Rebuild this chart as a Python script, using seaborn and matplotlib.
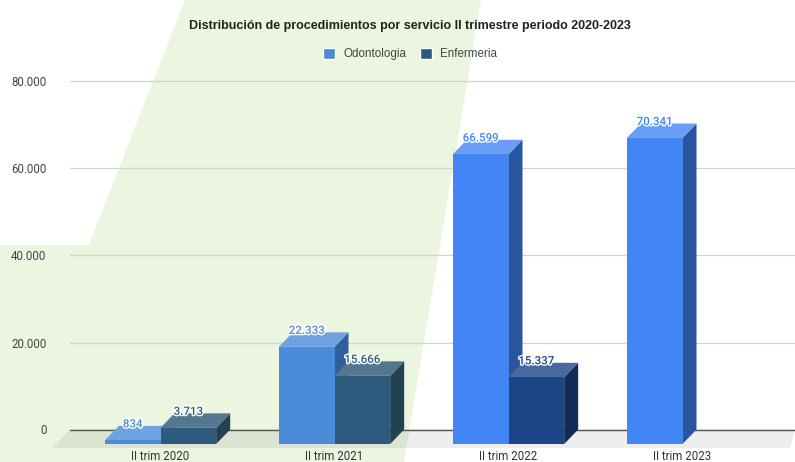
import matplotlib
matplotlib.use("Agg")
import matplotlib.patheffects as pe
import matplotlib.pyplot as plt
import pandas as pd
import seaborn as sns
from matplotlib.patches import Patch, Polygon

W, H = 795, 462

periods = ["II trim 2020", "II trim 2021", "II trim 2022", "II trim 2023"]
odontologia = [834, 22333, 66599, 70341]
enfermeria = [3713, 15666, 15337, None]
y_ticks = [0, 20000, 40000, 60000, 80000]
y_tick_labels = ["0", "20.000", "40.000", "60.000", "80.000"]

# front, top, side colours per bar
odo_colors = [
    ("#4a8cd8", "#6ea3e0", "#2f5f9c"),
    ("#4a8cd8", "#6ea3e0", "#2f5f9c"),
    ("#4285f4", "#6a9df5", "#2a55a0"),
    ("#4285f4", "#6a9df5", "#2a55a0"),
]
enf_colors = [
    ("#2d5a7f", "#54768f", "#244152"),
    ("#2d5a7f", "#54768f", "#244152"),
    ("#1c4587", "#486a9f", "#132c55"),
    ("#1c4587", "#486a9f", "#132c55"),
]
label_colors_odo = ["#4a8cd8", "#4a8cd8", "#4285f4", "#4285f4"]
label_colors_enf = ["#2d5a7f", "#2d5a7f", "#1c4587", "#1c4587"]

df = pd.DataFrame({"period": periods, "Odontologia": odontologia, "Enfermeria": enfermeria})
df = df.melt(id_vars="period", var_name="servicio", value_name="procedimientos")

sns.set_theme(style="white")
plt.rcParams["font.family"] = ["Roboto", "DejaVu Sans"]

fig = plt.figure(figsize=(W / 100, H / 100), dpi=100, facecolor="white")


def axes_px(left, right, top, bottom):
    return fig.add_axes([left / W, 1 - bottom / H, (right - left) / W, (bottom - top) / H])


def fig_poly(points, **kw):
    fig.add_artist(Polygon([(x / W, 1 - y / H) for x, y in points], transform=fig.transFigure, lw=0, **kw))


# green shape behind the chart and the floor
fig_poly([(185, 0), (481, 0), (404, 462), (0, 462), (0, 245), (89, 245)], facecolor="#ecf5e0", zorder=-2)
fig_poly([(70, 429.5), (795, 429.5), (790, 448), (52, 448)], facecolor="black", alpha=0.065, zorder=-1)

# back wall: gridlines and value axis
back = axes_px(70, 795, 81.5, 429.5)
back.patch.set_alpha(0)
back.set_ylim(0, 80000)
back.set_xticks([])
back.set_yticks(y_ticks, y_tick_labels, fontsize=8.3, color="#444444")
back.tick_params(axis="y", length=0, pad=17)
back.grid(axis="y", color="#d2d4ce", lw=0.9)
back.set_axisbelow(True)
for line in back.get_ygridlines():
    line.set_clip_on(False)
back.axhline(0, color="#555555", lw=1, clip_on=False)
sns.despine(ax=back, left=True, bottom=True, top=True, right=True)

# front plane: the bars
ax = axes_px(73.5, 769.5, 96, 444)
ax.patch.set_alpha(0)
sns.barplot(data=df, x="period", y="procedimientos", hue="servicio", width=0.64, gap=0,
            hue_order=["Odontologia", "Enfermeria"], legend=False, ax=ax)
ax.set_xlim(-0.5, 3.5)
ax.set_ylim(0, 80000)
ax.set_xlabel("")
ax.set_ylabel("")
ax.set_yticks([])
ax.tick_params(axis="x", length=0, pad=4, labelsize=8.3, labelcolor="#333333")
sns.despine(ax=ax, left=True, bottom=True)

# depth of the 3d effect in data units
dx = 14 / 174
dy = 14.5 / (348 / 80000)

halo = [pe.withStroke(linewidth=2, foreground="white")]
n = len(periods)
bars = ax.patches[:2 * n]
values = odontologia + enfermeria
colors = odo_colors + enf_colors
label_colors = label_colors_odo + label_colors_enf

for i, bar in enumerate(bars):
    val = values[i]
    if val is None:
        bar.set_visible(False)
        continue
    front, top, side = colors[i]
    x0 = bar.get_x()
    x1 = x0 + bar.get_width()
    z = 2 + i % n + (0.5 if i >= n else 0)
    bar.set_facecolor(front)
    bar.set_edgecolor("none")
    bar.set_zorder(z + 0.2)
    ax.add_patch(Polygon([(x1, 0), (x1 + dx, dy), (x1 + dx, val + dy), (x1, val)],
                         facecolor=side, lw=0, clip_on=False, zorder=z))
    ax.add_patch(Polygon([(x0, val), (x0 + dx, val + dy), (x1 + dx, val + dy), (x1, val)],
                         facecolor=top, lw=0, clip_on=False, zorder=z + 0.1))
    label = f"{val:,}".replace(",", ".")
    ax.annotate(label, (x0 + bar.get_width() / 2, val + dy), xytext=(0, 1.4), textcoords="offset points",
                ha="center", va="center", fontsize=8.3, fontweight="medium", color=label_colors[i],
                path_effects=halo, zorder=10, annotation_clip=False)

fig.text(410 / W, 1 - 25.5 / H, "Distribución de procedimientos por servicio II trimestre periodo 2020-2023",
         ha="center", va="center", fontsize=9.0, fontweight="bold", color="#222222",
         family=["Liberation Sans", "DejaVu Sans"])

handles = [Patch(facecolor="#4a8cd8", label="Odontologia"), Patch(facecolor="#2d5a7f", label="Enfermeria")]
fig.legend(handles=handles, loc="center", bbox_to_anchor=(410 / W, 1 - 54 / H), ncol=2, frameon=False,
           handlelength=1.05, handleheight=1.05, handletextpad=0.65, columnspacing=1.2,
           prop={"family": ["Liberation Sans", "DejaVu Sans"], "size": 8.4}, labelcolor="#444444")

fig.savefig("out.png", dpi=100)
